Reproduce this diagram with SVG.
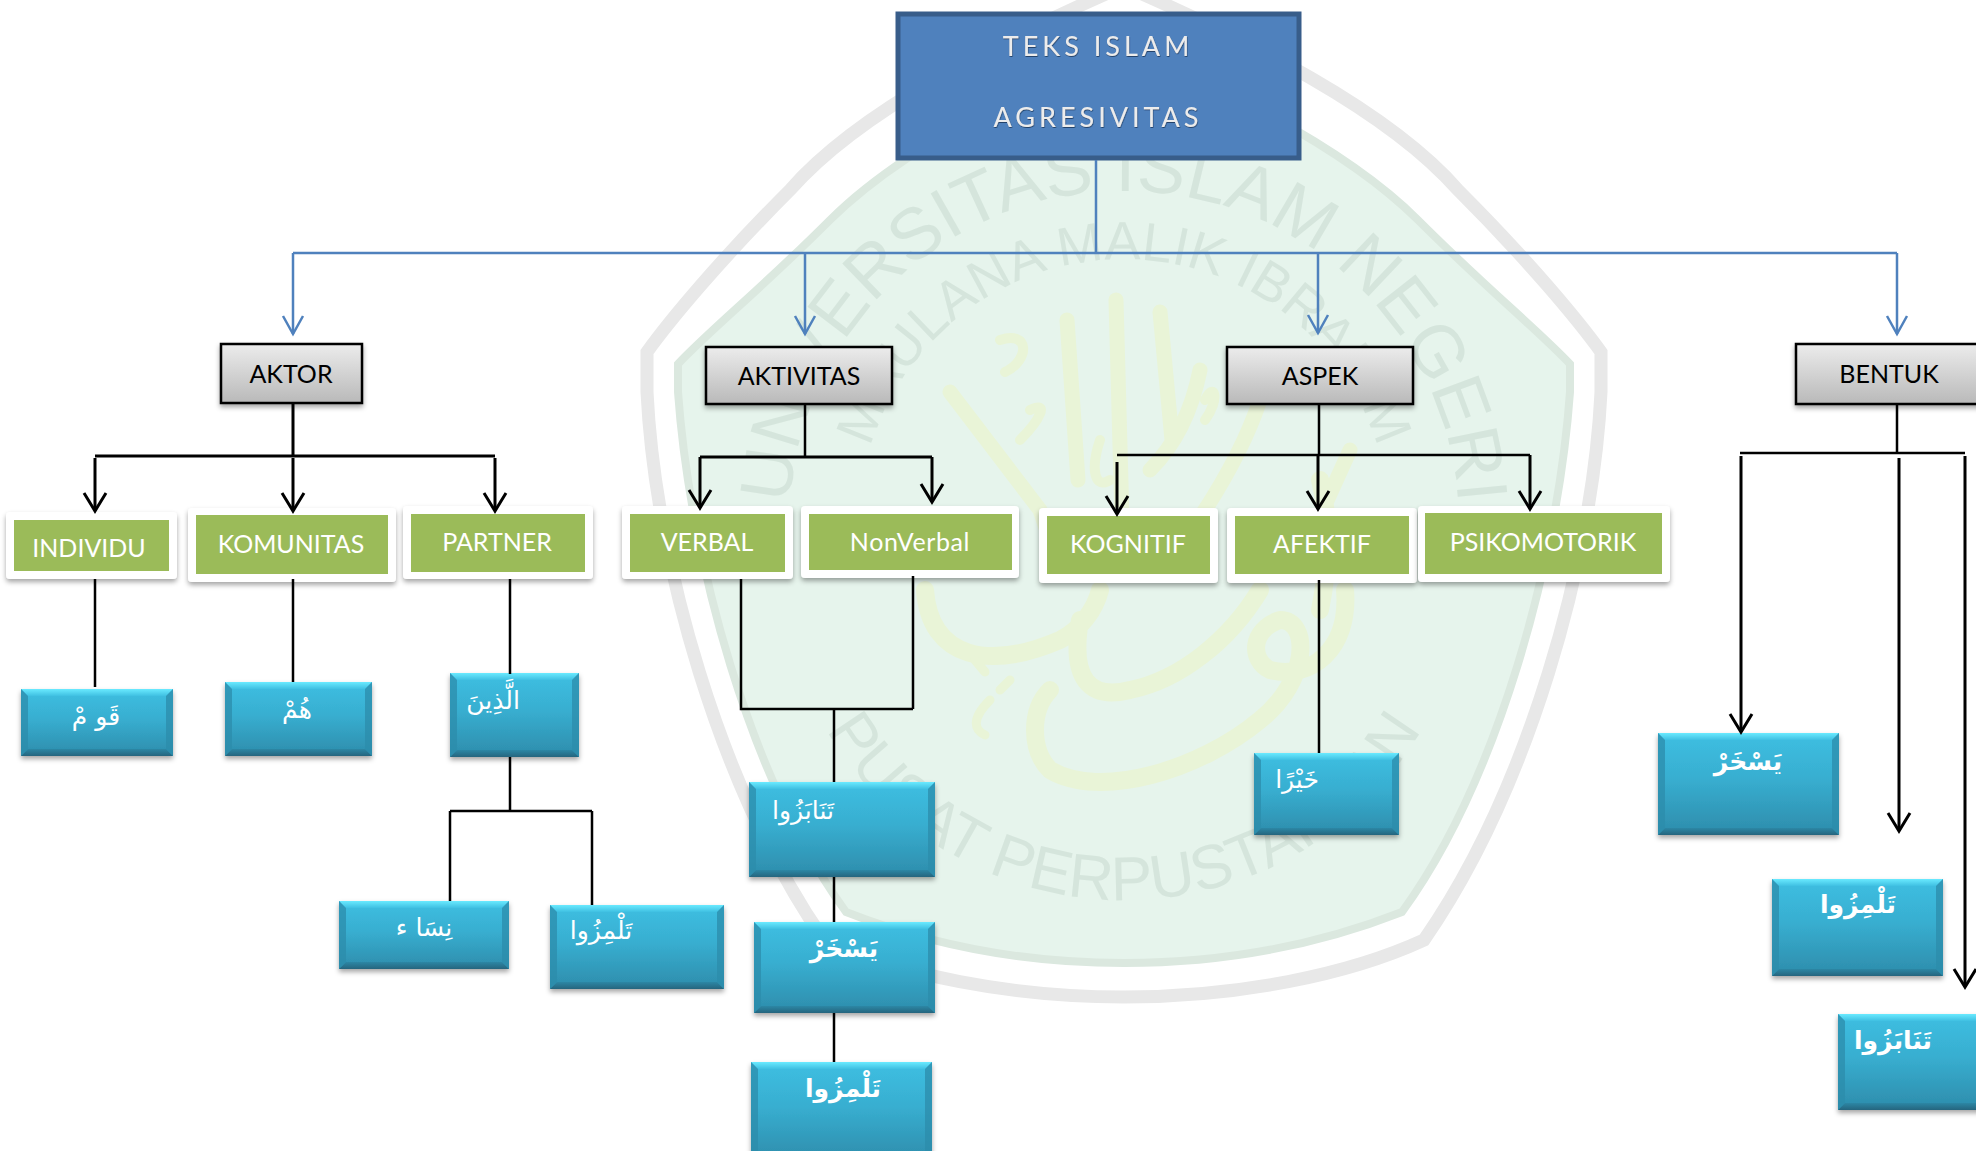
<svg xmlns="http://www.w3.org/2000/svg" xmlns:xlink="http://www.w3.org/1999/xlink" width="1976" height="1151" viewBox="0 0 1976 1151">
<defs>
<style>
.ring{fill:none;stroke:#e8e8e8;stroke-width:13}
.seal{fill:#e6f4ec;stroke:#dbe8df;stroke-width:8}
.wm{font-family:"Liberation Sans",Arial,sans-serif;fill:#d5e5dc}
.cal{fill:none;stroke:#e9f4d7;stroke-linecap:round;stroke-linejoin:round}
.lbl{font-family:Lato,"Liberation Sans",sans-serif;font-size:25px;text-anchor:middle}
.grey{fill:url(#gGrey);stroke:#000;stroke-width:2.5;filter:url(#sh)}
.card{fill:#fff;filter:url(#sh)}
.green{fill:#9bbb59}
.gt{fill:#fff}
.title{font-family:Lato,"Liberation Sans",sans-serif;font-size:27px;text-anchor:middle;fill:#ececec;filter:url(#ts)}
.body{fill:url(#gBody);filter:url(#sh)}
.bt{fill:url(#gTop)}
.bb{fill:url(#gBot)}
.bs{fill:#2c8cab;opacity:.75}
.ar{font-family:"DejaVu Sans","Noto Sans",sans-serif;font-size:25px;fill:#fff;text-anchor:middle;direction:rtl}
.arb{font-weight:bold}
.k{fill:none;stroke:#000;stroke-width:3}
.kt{fill:none;stroke:#000;stroke-width:2.5}
.b{fill:none;stroke:#4f81bd;stroke-width:2.5}
.ka{marker-end:url(#aK)}
.ba{marker-end:url(#aB)}
</style>
<linearGradient id="gGrey" x1="0" y1="0" x2="0" y2="1"><stop offset="0" stop-color="#ececec"/><stop offset="1" stop-color="#b9b9b9"/></linearGradient>
<linearGradient id="gBody" x1="0" y1="0" x2="0" y2="1"><stop offset="0" stop-color="#3dbfe2"/><stop offset=".45" stop-color="#38aed0"/><stop offset="1" stop-color="#2d8cab"/></linearGradient>
<linearGradient id="gTop" x1="0" y1="0" x2="0" y2="1"><stop offset="0" stop-color="#6aeaff"/><stop offset="1" stop-color="#3fc0e2"/></linearGradient>
<linearGradient id="gBot" x1="0" y1="0" x2="0" y2="1"><stop offset="0" stop-color="#2c87a5"/><stop offset="1" stop-color="#25657e"/></linearGradient>
<filter id="sh" x="-10%" y="-10%" width="120%" height="130%"><feDropShadow dx="0" dy="3" stdDeviation="2.5" flood-color="#000" flood-opacity=".35"/></filter>
<filter id="ts" x="-5%" y="-20%" width="110%" height="150%"><feDropShadow dx="0.5" dy="1" stdDeviation="0.6" flood-color="#1d3557" flood-opacity=".8"/></filter>
<marker id="aK" markerUnits="userSpaceOnUse" viewBox="-20 -13 23 26" refX="0" refY="0" markerWidth="23" markerHeight="26" orient="auto"><path d="M-18,-11 L0,0 L-18,11" fill="none" stroke="#000" stroke-width="3"/></marker>
<marker id="aB" markerUnits="userSpaceOnUse" viewBox="-20 -13 23 26" refX="0" refY="0" markerWidth="23" markerHeight="26" orient="auto"><path d="M-18,-10 L0,0 L-18,10" fill="none" stroke="#4f81bd" stroke-width="2.5"/></marker>
<path id="arc1" d="M 809 640 A 335 335 0 1 1 1439 640"/>
<path id="arc2" d="M 875 615 A 265 265 0 1 1 1373 615"/>
<path id="arc3" d="M 779 555 A 345 345 0 0 0 1469 555"/>
</defs>

<g id="watermark">
<path class="ring" d="M 1124 -14 C 1000 40 860 110 790 190 C 720 260 670 320 647 352 L 647 392 C 655 560 720 790 824 940 C 900 975 1010 997 1124 997 C 1238 997 1348 975 1424 940 C 1528 790 1593 560 1601 392 L 1601 352 C 1578 320 1528 260 1458 190 C 1388 110 1248 40 1124 -14 Z"/>
<path class="seal" d="M 1124 46 C 1020 90 900 150 830 220 C 760 290 710 330 678 364 L 678 392 C 690 560 750 780 846 912 C 930 945 1020 963 1124 963 C 1228 963 1318 945 1402 912 C 1498 780 1558 560 1570 392 L 1570 364 C 1538 330 1488 290 1418 220 C 1348 150 1228 90 1124 46 Z"/>
<g id="calligraphy">
<path class="cal" stroke-width="15" d="M1067 320 L1078 480 M1116 300 L1122 520 M1160 312 L1172 440 M1200 370 C1190 420 1170 450 1150 470 M950 392 L1040 510 L1060 570 M1260 400 C1240 460 1200 520 1170 560 M1350 450 L1300 560"/>
<path class="cal" stroke-width="10" d="M1000 340 C1030 330 1030 360 1005 372 M1030 410 C1050 400 1040 420 1020 440 M1100 440 C1090 470 1095 490 1110 480 M1205 400 C1215 380 1220 400 1205 420"/>
<path class="cal" stroke-width="18" d="M925 590 C930 660 990 670 1060 640 C1080 630 1095 610 1100 590 M1080 620 C1070 680 1090 700 1130 690 C1180 680 1230 640 1260 590 M1345 590 C1350 650 1310 680 1270 670 C1250 660 1250 630 1280 620 C1310 620 1310 680 1260 720 C1200 770 1100 800 1050 770 C1030 750 1030 710 1050 690 M1320 610 C1330 560 1330 520 1320 480"/>
<path class="cal" stroke-width="9" d="M975 660 L985 672 M990 700 C970 720 975 730 985 735 M1000 690 L1010 680"/>
</g>
<text class="wm" font-size="72"><textPath xlink:href="#arc1" href="#arc1" startOffset="50%" text-anchor="middle">UNIVERSITAS ISLAM NEGERI</textPath></text>
<text class="wm" font-size="54"><textPath xlink:href="#arc2" href="#arc2" startOffset="50%" text-anchor="middle">MAULANA MALIK IBRAHIM</textPath></text>
<text class="wm" font-size="62"><textPath xlink:href="#arc3" href="#arc3" startOffset="50%" text-anchor="middle">PUSAT PERPUSTAKAAN</textPath></text>
</g>

<g id="node-root">
<rect x="898" y="14" width="401" height="144" fill="#4f81bd" stroke="#385d8a" stroke-width="5"/>
<text class="title" x="1098" y="56" letter-spacing="4">TEKS ISLAM</text>
<text class="title" x="1098" y="127" letter-spacing="4">AGRESIVITAS</text>
</g>

<g id="node-aktor"><rect class="grey" x="221" y="344" width="141" height="59"/><text class="lbl" x="291" y="383">AKTOR</text></g>
<g id="node-aktivitas"><rect class="grey" x="706" y="347" width="186" height="57"/><text class="lbl" x="799" y="385">AKTIVITAS</text></g>
<g id="node-aspek"><rect class="grey" x="1227" y="347" width="186" height="57"/><text class="lbl" x="1320" y="385">ASPEK</text></g>
<g id="node-bentuk"><rect class="grey" x="1796" y="344" width="190" height="60"/><text class="lbl" x="1889" y="383">BENTUK</text></g>

<g id="node-individu"><rect class="card" x="6" y="512" width="171" height="67" rx="4"/><rect class="green" x="14" y="520" width="155" height="51"/><text class="lbl gt" x="89" y="557">INDIVIDU</text></g>
<g id="node-komunitas"><rect class="card" x="188" y="508" width="208" height="74" rx="4"/><rect class="green" x="196" y="515" width="192" height="59"/><text class="lbl gt" x="291" y="553">KOMUNITAS</text></g>
<g id="node-partner"><rect class="card" x="403" y="506" width="190" height="73" rx="4"/><rect class="green" x="411" y="514" width="174" height="58"/><text class="lbl gt" x="497" y="551">PARTNER</text></g>
<g id="node-verbal"><rect class="card" x="622" y="506" width="171" height="73" rx="4"/><rect class="green" x="630" y="514" width="155" height="58"/><text class="lbl gt" x="707" y="551">VERBAL</text></g>
<g id="node-nonverbal"><rect class="card" x="801" y="506" width="218" height="72" rx="4"/><rect class="green" x="809" y="514" width="203" height="56"/><text class="lbl gt" x="910" y="551" letter-spacing="0.6">NonVerbal</text></g>
<g id="node-kognitif"><rect class="card" x="1039" y="508" width="179" height="75" rx="4"/><rect class="green" x="1047" y="516" width="163" height="58"/><text class="lbl gt" x="1128" y="553">KOGNITIF</text></g>
<g id="node-afektif"><rect class="card" x="1227" y="508" width="190" height="75" rx="4"/><rect class="green" x="1235" y="516" width="174" height="58"/><text class="lbl gt" x="1322" y="553">AFEKTIF</text></g>
<g id="node-psikomotorik"><rect class="card" x="1418" y="506" width="252" height="76" rx="4"/><rect class="green" x="1425" y="513" width="237" height="61"/><text class="lbl gt" x="1543" y="551">PSIKOMOTORIK</text></g>

<g id="node-qaum"><rect class="body" x="21" y="689" width="152" height="67"/><path class="bt" d="M21 689H173L166 696H28Z"/><path class="bb" d="M21 756H173L166 749H28Z"/><path class="bs" d="M21 689L28 696V749L21 756ZM173 689L166 696V749L173 756Z"/><text class="ar" x="96" y="725">قَو مْ</text></g>
<g id="node-hum"><rect class="body" x="225" y="682" width="147" height="74"/><path class="bt" d="M225 682H372L365 689H232Z"/><path class="bb" d="M225 756H372L365 749H232Z"/><path class="bs" d="M225 682L232 689V749L225 756ZM372 682L365 689V749L372 756Z"/><text class="ar" x="297" y="718">هُمْ</text></g>
<g id="node-alladzina"><rect class="body" x="450" y="673" width="129" height="84"/><path class="bt" d="M450 673H579L572 680H457Z"/><path class="bb" d="M450 757H579L572 750H457Z"/><path class="bs" d="M450 673L457 680V750L450 757ZM579 673L572 680V750L579 757Z"/><text class="ar" x="493" y="709">الَّذِينَ</text></g>
<g id="node-nisa"><rect class="body" x="339" y="901" width="170" height="68"/><path class="bt" d="M339 901H509L502 908H346Z"/><path class="bb" d="M339 969H509L502 962H346Z"/><path class="bs" d="M339 901L346 908V962L339 969ZM509 901L502 908V962L509 969Z"/><text class="ar" x="424" y="936">نِسَا ء</text></g>
<g id="node-talmizu1"><rect class="body" x="550" y="905" width="174" height="84"/><path class="bt" d="M550 905H724L717 912H557Z"/><path class="bb" d="M550 989H724L717 982H557Z"/><path class="bs" d="M550 905L557 912V982L550 989ZM724 905L717 912V982L724 989Z"/><text class="ar" x="601" y="939">تَلْمِزُوا</text></g>
<g id="node-tanabazu1"><rect class="body" x="749" y="782" width="186" height="95"/><path class="bt" d="M749 782H935L928 789H756Z"/><path class="bb" d="M749 877H935L928 870H756Z"/><path class="bs" d="M749 782L756 789V870L749 877ZM935 782L928 789V870L935 877Z"/><text class="ar" x="803" y="819">تَنَابَزُوا</text></g>
<g id="node-yaskhar1"><rect class="body" x="754" y="922" width="181" height="91"/><path class="bt" d="M754 922H935L928 929H761Z"/><path class="bb" d="M754 1013H935L928 1006H761Z"/><path class="bs" d="M754 922L761 929V1006L754 1013ZM935 922L928 929V1006L935 1013Z"/><text class="ar arb" x="844" y="957">يَسْخَرْ</text></g>
<g id="node-talmizu2"><rect class="body" x="751" y="1062" width="181" height="100"/><path class="bt" d="M751 1062H932L925 1069H758Z"/><path class="bs" d="M751 1062L758 1069V1151H751ZM932 1062L925 1069V1151H932Z"/><text class="ar arb" x="843" y="1097">تَلْمِزُوا</text></g>
<g id="node-khairan"><rect class="body" x="1254" y="753" width="145" height="82"/><path class="bt" d="M1254 753H1399L1392 760H1261Z"/><path class="bb" d="M1254 835H1399L1392 828H1261Z"/><path class="bs" d="M1254 753L1261 760V828L1254 835ZM1399 753L1392 760V828L1399 835Z"/><text class="ar" x="1297" y="788">خَيْرًا</text></g>
<g id="node-yaskhar2"><rect class="body" x="1658" y="733" width="181" height="102"/><path class="bt" d="M1658 733H1839L1832 740H1665Z"/><path class="bb" d="M1658 835H1839L1832 828H1665Z"/><path class="bs" d="M1658 733L1665 740V828L1658 835ZM1839 733L1832 740V828L1839 835Z"/><text class="ar arb" x="1748" y="770">يَسْخَرْ</text></g>
<g id="node-talmizu3"><rect class="body" x="1772" y="879" width="171" height="97"/><path class="bt" d="M1772 879H1943L1936 886H1779Z"/><path class="bb" d="M1772 976H1943L1936 969H1779Z"/><path class="bs" d="M1772 879L1779 886V969L1772 976ZM1943 879L1936 886V969L1943 976Z"/><text class="ar arb" x="1858" y="913">تَلْمِزُوا</text></g>
<g id="node-tanabazu2"><rect class="body" x="1838" y="1014" width="160" height="96"/><path class="bt" d="M1838 1014H1998L1991 1021H1845Z"/><path class="bb" d="M1838 1110H1998L1991 1103H1845Z"/><path class="bs" d="M1838 1014L1845 1021V1103L1838 1110Z"/><text class="ar arb" x="1893" y="1049">تَنَابَزُوا</text></g>

<g id="connectors">
<path class="b" d="M1096 160V253M293 253H1897"/>
<path class="b ba" d="M293 253V334"/>
<path class="b ba" d="M805 253V334"/>
<path class="b ba" d="M1318 253V333"/>
<path class="b ba" d="M1897 253V334"/>

<path class="k" d="M293 403V456M95 456H495"/>
<path class="k ka" d="M95 458V511"/>
<path class="k ka" d="M293 458V511"/>
<path class="k ka" d="M495 458V511"/>
<path class="kt" d="M95 579V687M293 579V682M510 579V674M510 757V811M450 811H592M450 811V901M592 811V905"/>

<path class="kt" d="M805 404V457"/>
<path class="k" d="M700 457H932"/>
<path class="k ka" d="M700 457V508"/>
<path class="k ka" d="M932 457V502"/>
<path class="kt" d="M741 579V709H913M913 576V709M834 709V782M834 877V922M834 1013V1062"/>

<path class="kt" d="M1319 404V455M1117 455H1530"/>
<path class="k ka" d="M1117 462V514"/>
<path class="k ka" d="M1318 455V509"/>
<path class="k ka" d="M1530 455V509"/>
<path class="kt" d="M1319 580V753"/>

<path class="kt" d="M1897 404V453M1740 453H1965"/>
<path class="k ka" d="M1741 456V732"/>
<path class="k ka" d="M1899 458V831"/>
<path class="k ka" d="M1965 456V987"/>
</g>
</svg>
